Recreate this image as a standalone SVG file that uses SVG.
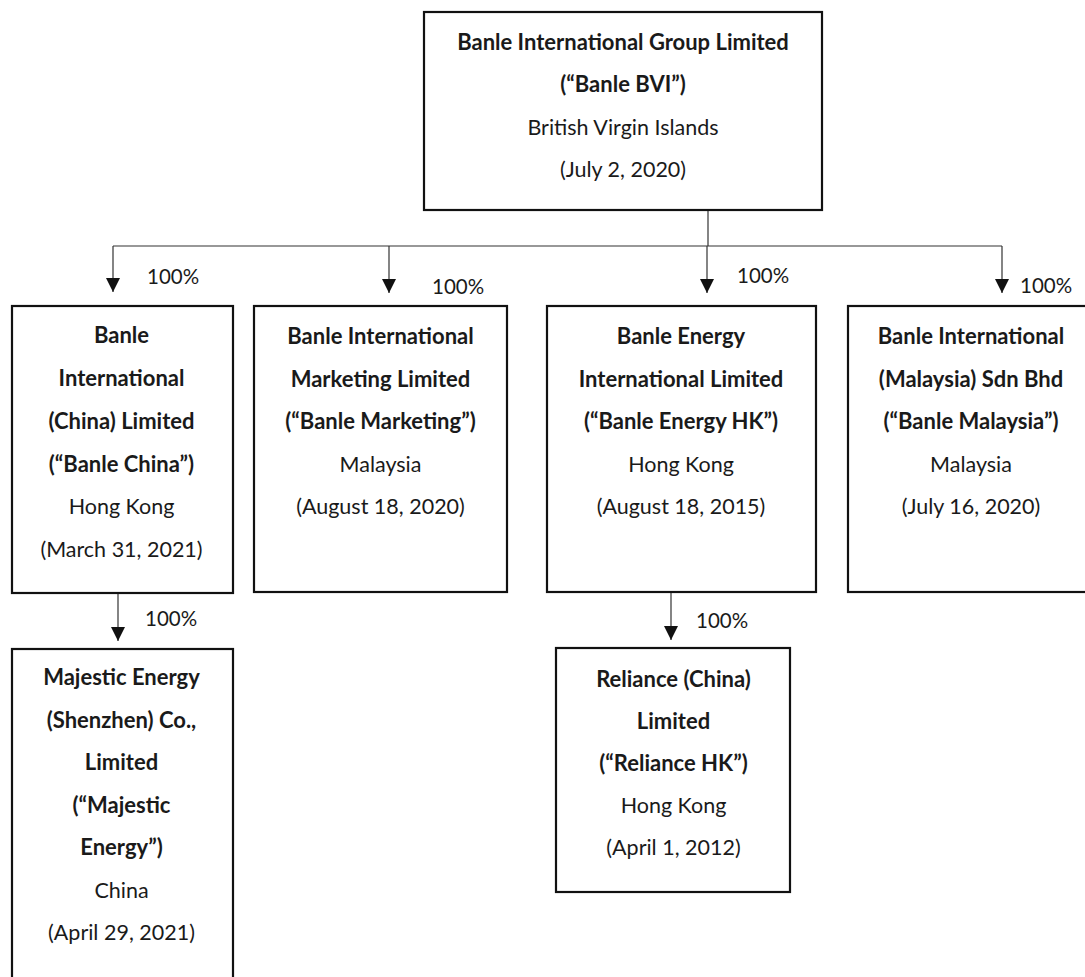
<svg xmlns="http://www.w3.org/2000/svg" width="1085" height="977" viewBox="0 0 1085 977">
<style>
.box{fill:#fff;stroke:#111;stroke-width:2.2}
text{font-family:Lato,"Open Sans",sans-serif;font-size:21.5px;fill:#1a1a1a;text-anchor:middle}
.b{font-weight:bold;font-size:22px}
.pct{text-anchor:start;font-size:20.5px}
.ln{stroke:#333;stroke-width:1.2;fill:none}
</style>
<defs>
<marker id="ah" markerWidth="14" markerHeight="14" refX="14" refY="7" orient="auto" markerUnits="userSpaceOnUse" viewBox="0 0 14 14">
<path d="M0,0 L14,7 L0,14 Z" fill="#111"/>
</marker>
</defs>
<rect width="1085" height="977" fill="#fff"/>
<g id="connectors">
<path class="ln" d="M708,210 V246"/>
<path class="ln" d="M113,246 H1002"/>
<path class="ln" d="M113,246 V292" marker-end="url(#ah)"/>
<path class="ln" d="M389,246 V293" marker-end="url(#ah)"/>
<path class="ln" d="M707,246 V293" marker-end="url(#ah)"/>
<path class="ln" d="M1002,246 V293" marker-end="url(#ah)"/>
<path class="ln" d="M118,593 V641" marker-end="url(#ah)"/>
<path class="ln" d="M671,592 V640" marker-end="url(#ah)"/>
<text class="pct" x="147" y="284">100%</text>
<text class="pct" x="432" y="294">100%</text>
<text class="pct" x="737" y="283">100%</text>
<text class="pct" x="1020" y="293">100%</text>
<text class="pct" x="145" y="626">100%</text>
<text class="pct" x="696" y="628">100%</text>
</g>
<g id="banle-bvi">
<rect class="box" x="424" y="12" width="398" height="198"/>
<text class="b" x="623" y="50">Banle International Group Limited</text>
<text class="b" x="623" y="92">(“Banle BVI”)</text>
<text x="623" y="135">British Virgin Islands</text>
<text x="623" y="177">(July 2, 2020)</text>
</g>
<g id="banle-china">
<rect class="box" x="12" y="306" width="221" height="287"/>
<text class="b" x="121.5" y="343">Banle</text>
<text class="b" x="121.5" y="386">International</text>
<text class="b" x="121.5" y="429">(China) Limited</text>
<text class="b" x="121.5" y="472">(“Banle China”)</text>
<text x="121.5" y="514">Hong Kong</text>
<text x="121.5" y="557">(March 31, 2021)</text>
</g>
<g id="banle-marketing">
<rect class="box" x="254" y="306" width="253" height="286"/>
<text class="b" x="380.5" y="344">Banle International</text>
<text class="b" x="380.5" y="387">Marketing Limited</text>
<text class="b" x="380.5" y="429">(“Banle Marketing”)</text>
<text x="380.5" y="472">Malaysia</text>
<text x="380.5" y="514">(August 18, 2020)</text>
</g>
<g id="banle-energy-hk">
<rect class="box" x="547" y="306" width="269" height="286"/>
<text class="b" x="681" y="344">Banle Energy</text>
<text class="b" x="681" y="387">International Limited</text>
<text class="b" x="681" y="429">(“Banle Energy HK”)</text>
<text x="681" y="472">Hong Kong</text>
<text x="681" y="514">(August 18, 2015)</text>
</g>
<g id="banle-malaysia">
<rect class="box" x="848" y="306" width="250" height="286"/>
<text class="b" x="971" y="344">Banle International</text>
<text class="b" x="971" y="387">(Malaysia) Sdn Bhd</text>
<text class="b" x="971" y="429">(“Banle Malaysia”)</text>
<text x="971" y="472">Malaysia</text>
<text x="971" y="514">(July 16, 2020)</text>
</g>
<g id="majestic-energy">
<rect class="box" x="12" y="649" width="221" height="340"/>
<text class="b" x="121.5" y="685">Majestic Energy</text>
<text class="b" x="121.5" y="728">(Shenzhen) Co.,</text>
<text class="b" x="121.5" y="770">Limited</text>
<text class="b" x="121.5" y="813">(“Majestic</text>
<text class="b" x="121.5" y="855">Energy”)</text>
<text x="121.5" y="898">China</text>
<text x="121.5" y="940">(April 29, 2021)</text>
</g>
<g id="reliance-hk">
<rect class="box" x="556" y="648" width="234" height="244"/>
<text class="b" x="673.5" y="687">Reliance (China)</text>
<text class="b" x="673.5" y="729">Limited</text>
<text class="b" x="673.5" y="771">(“Reliance HK”)</text>
<text x="673.5" y="813">Hong Kong</text>
<text x="673.5" y="855">(April 1, 2012)</text>
</g>
</svg>
